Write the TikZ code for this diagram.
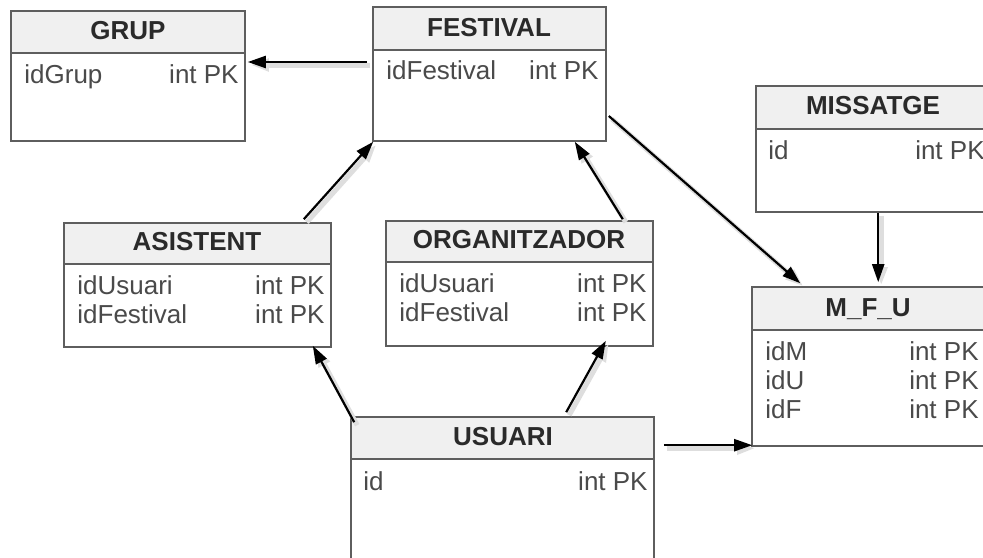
\documentclass[tikz,border=0pt]{standalone}
\usepackage{fontspec}
\setmainfont{Liberation Sans}
\usetikzlibrary{arrows.meta, calc, fit}
\definecolor{boxline}{HTML}{5E5E5E}
\definecolor{headfill}{HTML}{F0F0F0}
\definecolor{fieldtext}{HTML}{4A4A4A}
\definecolor{titletext}{HTML}{2A2A2A}

\begin{document}
\begin{tikzpicture}[x=0.5pt, y=-0.5pt,
    entity/.style={draw=boxline, line width=0.8pt, inner sep=0pt, fill=white},
    entityhead/.style={draw=boxline, line width=0.8pt, inner sep=0pt, fill=headfill},
    title/.style={anchor=base, inner sep=0pt, text=titletext, font=\fontsize{13}{15}\selectfont\bfseries},
    field/.style={anchor=base west, inner sep=0pt, text=fieldtext, font=\fontsize{13}{15}\selectfont},
    ftype/.style={anchor=base east, inner sep=0pt, text=fieldtext, font=\fontsize{13}{15}\selectfont},
    rel/.style={line width=1.1pt, -{Triangle[length=9pt, width=6pt]},
        preaction={draw=black!13, line width=2.5pt, transform canvas={shift={(1.5pt,-1.5pt)}}}}]
\useasboundingbox (0,0) rectangle (983,557);

% GRUP
\node[entity, fit={(11,11) (245,141)}] (grup) {};
\node[entityhead, fit={(11,11) (245,53)}] (grup-head) {};
\node[title] (grup-title) at (128,39) {GRUP};
\node[field] (grup-f1) at (24,83) {idGrup};
\node[ftype] (grup-t1) at (239,83) {int PK};

% FESTIVAL
\node[entity, fit={(373,7) (606,141)}] (festival) {};
\node[entityhead, fit={(373,7) (606,50)}] (festival-head) {};
\node[title] (festival-title) at (489,36) {FESTIVAL};
\node[field] (festival-f1) at (386,79) {idFestival};
\node[ftype] (festival-t1) at (599,79) {int PK};

% MISSATGE
\node[entity, fit={(756,86) (990,212)}] (missatge) {};
\node[entityhead, fit={(756,86) (990,129)}] (missatge-head) {};
\node[title] (missatge-title) at (873,114) {MISSATGE};
\node[field] (missatge-f1) at (768,159) {id};
\node[ftype] (missatge-t1) at (985,159) {int PK};

% ASISTENT
\node[entity, fit={(64,223) (331,347)}] (asistent) {};
\node[entityhead, fit={(64,223) (331,264)}] (asistent-head) {};
\node[title] (asistent-title) at (197,250) {ASISTENT};
\node[field] (asistent-f1) at (77,294) {idUsuari};
\node[ftype] (asistent-t1) at (325,294) {int PK};
\node[field] (asistent-f2) at (77,323) {idFestival};
\node[ftype] (asistent-t2) at (325,323) {int PK};

% ORGANITZADOR
\node[entity, fit={(386,221) (653,346)}] (organitzador) {};
\node[entityhead, fit={(386,221) (653,262)}] (organitzador-head) {};
\node[title] (organitzador-title) at (519,248) {ORGANITZADOR};
\node[field] (organitzador-f1) at (399,292) {idUsuari};
\node[ftype] (organitzador-t1) at (647,292) {int PK};
\node[field] (organitzador-f2) at (399,321) {idFestival};
\node[ftype] (organitzador-t2) at (647,321) {int PK};

% M_F_U
\node[entity, fit={(752,287) (985,446)}] (mfu) {};
\node[entityhead, fit={(752,287) (985,330)}] (mfu-head) {};
\node[title] (mfu-title) at (868,316) {M\_F\_U};
\node[field] (mfu-f1) at (765,360) {idM};
\node[ftype] (mfu-t1) at (979,360) {int PK};
\node[field] (mfu-f2) at (765,389) {idU};
\node[ftype] (mfu-t2) at (979,389) {int PK};
\node[field] (mfu-f3) at (765,418) {idF};
\node[ftype] (mfu-t3) at (979,418) {int PK};

% USUARI
\node[entity, fit={(351,417) (654,580)}] (usuari) {};
\node[entityhead, fit={(351,417) (654,459)}] (usuari-head) {};
\node[title] (usuari-title) at (503,445) {USUARI};
\node[field] (usuari-f1) at (363,490) {id};
\node[ftype] (usuari-t1) at (648,490) {int PK};

% relaciones
\draw[rel] ($(festival.west)+(-5,-12)$) -- ($(grup.east)+(2,-14)$);
\draw[rel] ($(asistent.north east)+(-28,-3)$) -- ($(festival.south west)+(1,0)$);
\draw[rel] ($(organitzador.north east)+(-31,-1)$) -- ($(festival.south east)+(-32,0)$);
\draw[rel] ($(festival.east)+(2,42)$) -- ($(mfu.north west)+(49,-3)$);
\draw[rel] ($(missatge.south west)+(123,0)$) coordinate (m-m) -- ($(m-m |- mfu.north)+(0,-4)$);
\draw[rel] ($(usuari.north west)+(4,6)$) -- ($(asistent.south east)+(-19,-2)$);
\draw[rel] ($(usuari.north west)+(216,-4)$) -- ($(organitzador.south east)+(-48,-6)$);
\draw[rel] ($(usuari.north east)+(9,29)$) coordinate (u-m) -- ($(u-m -| mfu.west)+(1,0)$);
\end{tikzpicture}
\end{document}
